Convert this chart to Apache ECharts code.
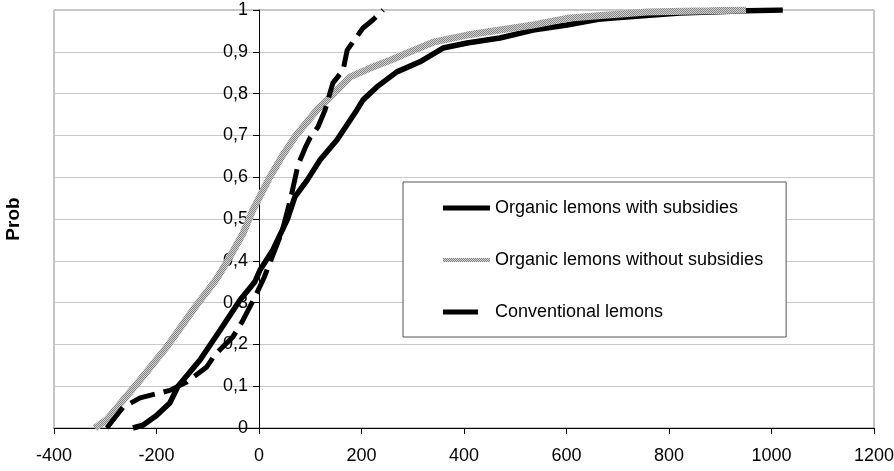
<!DOCTYPE html>
<html>
	<head>
		<meta charset="UTF-8">
		<title></title>
		<script type="text/javascript" src="https://cdn.jsdelivr.net/npm/echarts@6/dist/echarts.min.js"></script>
	</head>
	<body style="margin:0;background:#fff;">
		<div id="main" style="width: 894px;height: 471px;"></div>
		<script type="text/javascript">
// points: [profit, cumulative prob]
var withSubsidies = [[-246,0],[-226,0.007],[-200,0.03],[-174,0.06],[-158,0.1],[-115,0.163],[-76,0.234],[-37,0.306],[-8,0.35],[2,0.378],[27,0.426],[55,0.498],[70,0.553],[94,0.593],[119,0.641],[152,0.689],[165,0.713],[191,0.761],[203,0.785],[230,0.816],[269,0.852],[314,0.876],[359,0.909],[406,0.921],[470,0.933],[535,0.952],[601,0.964],[662,0.978],[691,0.981],[821,0.993],[952,0.998],[1022,1]];
var withoutSubsidies = [[-320,0],[-297,0.02],[-232,0.115],[-180,0.194],[-129,0.282],[-82,0.358],[-57,0.409],[-31,0.466],[-12,0.522],[0,0.55],[21,0.6],[45,0.65],[72,0.7],[113,0.761],[139,0.792],[178,0.84],[217,0.861],[256,0.88],[295,0.9],[340,0.923],[406,0.94],[470,0.952],[535,0.964],[601,0.98],[662,0.986],[757,0.995],[880,0.998],[950,1]];
var conventional = [[-297,0],[-265,0.05],[-232,0.072],[-174,0.09],[-141,0.11],[-102,0.146],[-86,0.175],[-51,0.218],[-33,0.254],[-8,0.313],[10,0.36],[21,0.395],[45,0.47],[62,0.55],[76,0.629],[90,0.67],[100,0.695],[115,0.72],[129,0.761],[144,0.825],[164,0.856],[172,0.904],[183,0.923],[203,0.957],[222,0.976],[242,1]];
var seriesNames = ['Organic lemons with subsidies', 'Organic lemons without subsidies', 'Conventional lemons'];

// hatched grey for the "without subsidies" line
var pat = document.createElement('canvas');
pat.width = 2; pat.height = 2;
var pctx = pat.getContext('2d');
pctx.fillStyle = '#d0d0d0'; pctx.fillRect(0, 0, 2, 2);
pctx.fillStyle = '#868686'; pctx.fillRect(0, 0, 1, 1); pctx.fillRect(1, 1, 1, 1);
var greyPattern = { image: pat, repeat: 'repeat' };

var font = 'Liberation Sans, Arial, sans-serif';
var gridLeft = 54, gridRight = 20;
var plotWidth = 894 - gridLeft - gridRight;
// y axis sits at x = 0, i.e. a quarter of the way across (-400..1200)
var yAxisShift = plotWidth * 400 / 1600;

var myChart = echarts.init(document.getElementById('main'));

option = {
    animation: false,
    backgroundColor: '#fff',
    grid: {
        left: gridLeft, right: gridRight, top: 10, bottom: 43,
        outerBoundsMode: 'none', containLabel: false,
        show: true, borderColor: '#8a8a8a', borderWidth: 1
    },
    legend: {
        orient: 'vertical',
        left: 403, top: 182,
        padding: [17, 23, 16, 40],
        itemGap: 34,
        itemWidth: 47, itemHeight: 16,
        backgroundColor: '#fff',
        borderColor: '#555', borderWidth: 1,
        textStyle: { color: '#000', fontSize: 18, fontFamily: font },
        data: [
            { name: seriesNames[0], icon: 'path://M0,0L47,0L47,5L0,5Z', itemStyle: { color: '#000' } },
            { name: seriesNames[1], icon: 'path://M0,0L47,0L47,4L0,4Z', itemStyle: { color: greyPattern } },
            { name: seriesNames[2], icon: 'path://M0,0L35,0L35,5L0,5ZM47,0L47,5L47,0Z', itemStyle: { color: '#000' } }
        ]
    },
    xAxis: {
        type: 'value',
        min: -400, max: 1200, interval: 200,
        axisLine: { onZero: false, lineStyle: { color: '#000', width: 1 } },
        axisTick: { show: true, length: 6, lineStyle: { color: '#000' } },
        axisLabel: {
            color: '#000', fontSize: 18, fontFamily: font, margin: 19,
            formatter: function (v) { return String(v); }
        },
        splitLine: { show: false }
    },
    yAxis: {
        type: 'value',
        min: 0, max: 1, interval: 0.1,
        offset: -yAxisShift,
        name: 'Prob',
        nameLocation: 'middle',
        nameGap: 236,
        nameTextStyle: { color: '#000', fontWeight: 'bold', fontSize: 19, fontFamily: font },
        axisLine: { show: true, onZero: false, lineStyle: { color: '#000', width: 1 } },
        axisTick: { show: true, length: 6, lineStyle: { color: '#000' } },
        axisLabel: {
            color: '#000', fontSize: 18, fontFamily: font, margin: 11,
            formatter: function (v) { return String(Math.round(v * 10) / 10).replace('.', ','); }
        },
        splitLine: { show: true, lineStyle: { color: '#c8c8c8', width: 1 } }
    },
    series: [{
        name: seriesNames[0],
        type: 'line',
        showSymbol: false, symbol: 'none',
        lineStyle: { color: '#000', width: 5.5 },
        itemStyle: { color: '#000' },
        data: withSubsidies
    }, {
        name: seriesNames[1],
        type: 'line',
        showSymbol: false, symbol: 'none',
        lineStyle: { color: greyPattern, width: 7 },
        itemStyle: { color: '#aaa' },
        data: withoutSubsidies
    }, {
        name: seriesNames[2],
        type: 'line',
        showSymbol: false, symbol: 'none',
        lineStyle: { color: '#000', width: 5, type: [26, 9] },
        itemStyle: { color: '#000' },
        data: conventional
    }]
};
myChart.setOption(option);
		</script>
	</body>
</html>
